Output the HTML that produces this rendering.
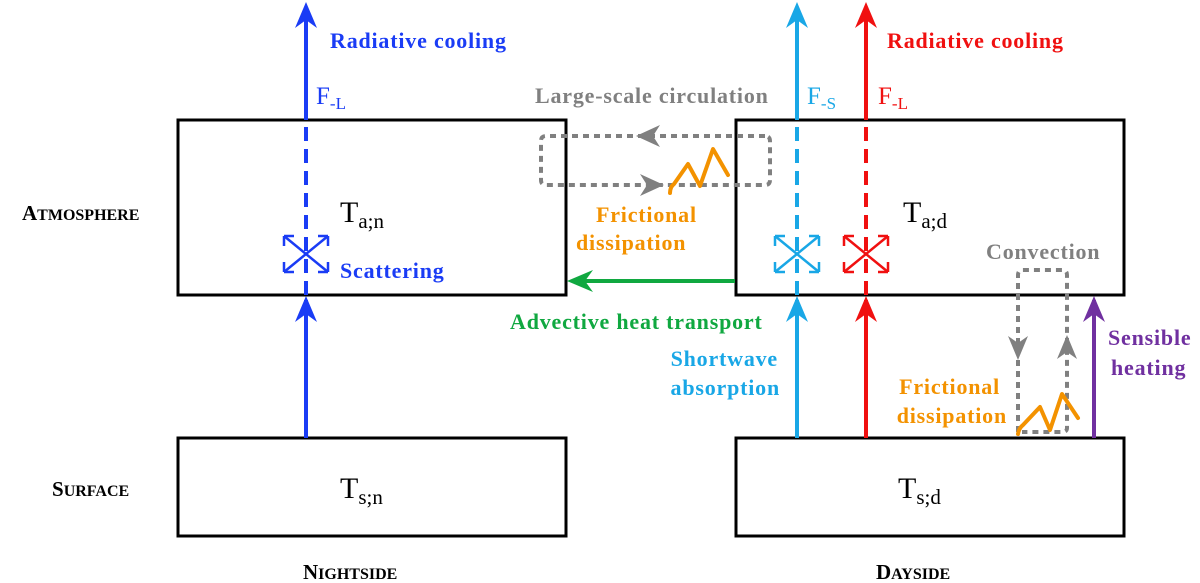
<!DOCTYPE html>
<html><head><style>html,body{margin:0;padding:0;background:#fff}svg{display:block}
text{font-family:"Liberation Serif",serif}</style></head><body>
<svg width="1200" height="583" viewBox="0 0 1200 583">
<g fill="none" stroke="#000" stroke-width="3">
<rect x="178" y="120" width="388" height="175"/>
<rect x="178" y="438" width="388" height="98"/>
<rect x="736" y="120" width="388" height="175"/>
<rect x="736" y="438" width="388" height="98"/>
</g>
<g stroke-width="4" fill="none">
<path d="M306 438 V300" stroke="#1a3cf5"/>
<path d="M306 295 V120" stroke="#1a3cf5" stroke-dasharray="14 8"/>
<path d="M306 120 V12" stroke="#1a3cf5"/>
<path d="M797 438 V300" stroke="#19a7e6"/>
<path d="M797 295 V120" stroke="#19a7e6" stroke-dasharray="14 8"/>
<path d="M797 120 V12" stroke="#19a7e6"/>
<path d="M866 438 V300" stroke="#f01010"/>
<path d="M866 295 V120" stroke="#f01010" stroke-dasharray="14 8"/>
<path d="M866 120 V12" stroke="#f01010"/>
<path d="M1094 438 V300" stroke="#7030a0"/>
<path d="M735 281 H575" stroke="#10a840"/>
</g>
<g>
<path d="M306 296 l-11 26 l11 -8 l11 8z" fill="#1a3cf5"/>
<path d="M306 2 l-11 26 l11 -8 l11 8z" fill="#1a3cf5"/>
<path d="M797 296 l-11 26 l11 -8 l11 8z" fill="#19a7e6"/>
<path d="M797 2 l-11 26 l11 -8 l11 8z" fill="#19a7e6"/>
<path d="M866 296 l-11 26 l11 -8 l11 8z" fill="#f01010"/>
<path d="M866 2 l-11 26 l11 -8 l11 8z" fill="#f01010"/>
<path d="M1094 296 l-11 26 l11 -8 l11 8z" fill="#7030a0"/>
<path d="M567 281 l26 -11 l-8 11 l8 11z" fill="#10a840"/>
</g>
<g stroke-width="2.5" fill="none">
<g stroke="#1a3cf5"><path d="M284 236 L328 272 M328 236 L284 272"/><path d="M284 236 l10 0 M284 236 l0 10 M328 236 l-10 0 M328 236 l0 10 M284 272 l10 0 M284 272 l0 -10 M328 272 l-10 0 M328 272 l0 -10"/></g>
<g stroke="#19a7e6"><path d="M775 236 L819 272 M819 236 L775 272"/><path d="M775 236 l10 0 M775 236 l0 10 M819 236 l-10 0 M819 236 l0 10 M775 272 l10 0 M775 272 l0 -10 M819 272 l-10 0 M819 272 l0 -10"/></g>
<g stroke="#f01010"><path d="M844 236 L888 272 M888 236 L844 272"/><path d="M844 236 l10 0 M844 236 l0 10 M888 236 l-10 0 M888 236 l0 10 M844 272 l10 0 M844 272 l0 -10 M888 272 l-10 0 M888 272 l0 -10"/></g>
</g>
<g stroke="#808080" stroke-width="4" fill="none" stroke-dasharray="6 5">
<path d="M765 136 H546 Q541 136 541 141 V180 Q541 185 546 185 H765 Q770 185 770 180 V141 Q770 136 765 136"/>
<path d="M1018 432 V275 Q1018 270 1023 270 H1062 Q1067 270 1067 275 V428 Q1067 432 1062 432 H1022"/>
</g>
<g fill="#808080">
<path d="M636 136 l24 -11 l-7 11 l7 11z"/>
<path d="M664 185 l-24 -11 l7 11 l-7 11z"/>
<path d="M1018 360 l-10 -24 l10 7 l10 -7z"/>
<path d="M1067 335 l-10 24 l10 -7 l10 7z"/>
</g>
<g stroke="#f39200" stroke-width="4" fill="none" stroke-linejoin="round" stroke-linecap="round">
<path d="M670 193 Q670 187 674 184 L688 164 L700 186 L713 149 L728 175"/>
<path d="M1018 434 Q1019 428 1023 425 L1040 407 L1050 430 L1062 394 L1078 418"/>
</g>
<g font-weight="bold" font-size="22" letter-spacing="0.8">
<text x="330" y="48" fill="#1a3cf5">Radiative cooling</text>
<text x="887" y="48" fill="#f01010">Radiative cooling</text>
<text x="535" y="103" fill="#808080">Large-scale circulation</text>
<text x="340" y="278" fill="#1a3cf5">Scattering</text>
<text x="596" y="222" fill="#f39200">Frictional</text>
<text x="576" y="250" fill="#f39200">dissipation</text>
<text x="510" y="329" fill="#10a840">Advective heat transport</text>
<text x="986" y="259" fill="#808080">Convection</text>
<text x="1108" y="345" fill="#7030a0">Sensible</text>
<text x="1111" y="375" fill="#7030a0">heating</text>
<text x="778" y="366" fill="#19a7e6" text-anchor="end">Shortwave</text>
<text x="780" y="395" fill="#19a7e6" text-anchor="end">absorption</text>
<text x="1000" y="394" fill="#f39200" text-anchor="end">Frictional</text>
<text x="1007" y="423" fill="#f39200" text-anchor="end">dissipation</text>
</g>
<g font-size="25">
<text x="316" y="104" fill="#1a3cf5">F<tspan font-size="17" dy="5">-L</tspan></text>
<text x="807" y="104" fill="#19a7e6">F<tspan font-size="17" dy="5">-S</tspan></text>
<text x="878" y="104" fill="#f01010">F<tspan font-size="17" dy="5">-L</tspan></text>
<text x="340" y="222" font-size="30">T<tspan font-size="21" dy="6">a;n</tspan></text>
<text x="903" y="222" font-size="30">T<tspan font-size="21" dy="6">a;d</tspan></text>
<text x="340" y="498" font-size="30">T<tspan font-size="21" dy="6">s;n</tspan></text>
<text x="898" y="498" font-size="30">T<tspan font-size="21" dy="6">s;d</tspan></text>
</g>
<g font-weight="bold" font-size="21">
<text x="22" y="220">A<tspan font-size="16">TMOSPHERE</tspan></text>
<text x="52" y="496">S<tspan font-size="16">URFACE</tspan></text>
<text x="303" y="579">N<tspan font-size="16">IGHTSIDE</tspan></text>
<text x="876" y="579">D<tspan font-size="16">AYSIDE</tspan></text>
</g>
</svg>
</body></html>
